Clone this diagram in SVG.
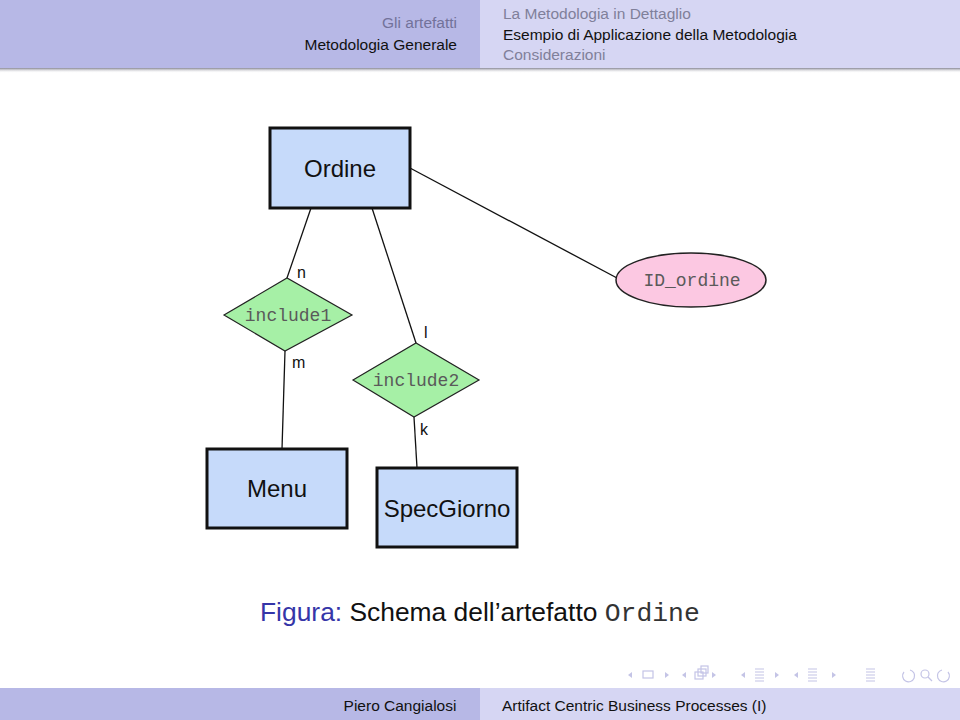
<svg xmlns="http://www.w3.org/2000/svg" width="960" height="720" viewBox="0 0 960 720">
<defs>
<linearGradient id="shadow" x1="0" y1="0" x2="0" y2="1">
<stop offset="0" stop-color="#6a6a7a" stop-opacity="0.8"/>
<stop offset="1" stop-color="#ffffff" stop-opacity="0"/>
</linearGradient>
<style>
.ent{fill:#c6dafa;stroke:#111;stroke-width:3}
.rel{fill:#a6f0a6;stroke:#222;stroke-width:1.2}
.att{fill:#fcc8e2;stroke:#222;stroke-width:1.5}
.ln{stroke:#111;stroke-width:1.3;fill:none}
.et{font-family:"Liberation Sans",Arial,sans-serif;font-size:24px;fill:#111;text-anchor:middle}
.mt{font-family:"Liberation Mono","Courier New",monospace;font-size:18px;fill:#5a5a5a;text-anchor:middle}
.card{font-family:"Liberation Sans",Arial,sans-serif;font-size:16px;fill:#111}
.hd{font-family:"Liberation Sans",Arial,sans-serif;font-size:15.5px}
.nav{fill:none;stroke:#c4c4e6;stroke-width:1.2}
.navf{fill:#c4c4e6}
</style>
</defs>
<rect width="960" height="720" fill="#ffffff"/>
<g id="header">
<rect x="0" y="0" width="480" height="68" fill="#b7b8e6"/>
<rect x="480" y="0" width="480" height="68" fill="#d6d6f3"/>
<rect x="0" y="68" width="960" height="5" fill="url(#shadow)"/>
<text class="hd" x="457" y="28" text-anchor="end" fill="#72729a">Gli artefatti</text>
<text class="hd" x="457" y="50" text-anchor="end" fill="#111">Metodologia Generale</text>
<text class="hd" x="503" y="19" fill="#80809a">La Metodologia in Dettaglio</text>
<text class="hd" x="503" y="40" fill="#111">Esempio di Applicazione della Metodologia</text>
<text class="hd" x="503" y="60" fill="#80809a">Considerazioni</text>
</g>
<g id="connectors">
<line class="ln" x1="311" y1="208" x2="287" y2="278"/>
<line class="ln" x1="372" y1="208" x2="416" y2="343"/>
<line class="ln" x1="410" y1="168" x2="617" y2="278"/>
<line class="ln" x1="285" y1="351" x2="282" y2="449"/>
<line class="ln" x1="414" y1="417" x2="417" y2="468"/>
</g>
<g id="Ordine">
<rect class="ent" x="270" y="128" width="140" height="80"/>
<text class="et" x="340" y="177">Ordine</text>
</g>
<g id="include1">
<polygon class="rel" points="224,315 287,278 352,315 285,351"/>
<text class="mt" x="288" y="321">include1</text>
</g>
<g id="include2">
<polygon class="rel" points="353,380 416,343 479,380 414,417"/>
<text class="mt" x="416" y="386">include2</text>
</g>
<g id="ID_ordine">
<ellipse class="att" cx="691" cy="280" rx="75" ry="27"/>
<text class="mt" x="692" y="286">ID_ordine</text>
</g>
<g id="Menu">
<rect class="ent" x="207" y="449" width="140" height="79"/>
<text class="et" x="277" y="497">Menu</text>
</g>
<g id="SpecGiorno">
<rect class="ent" x="377" y="468" width="140" height="79"/>
<text class="et" x="447" y="517">SpecGiorno</text>
</g>
<g id="labels">
<text class="card" x="297" y="278">n</text>
<text class="card" x="292" y="368">m</text>
<text class="card" x="424" y="338">l</text>
<text class="card" x="420" y="435">k</text>
</g>
<g id="caption" font-size="26.4">
<text x="260" y="621" font-family="Liberation Sans,Arial,sans-serif"><tspan fill="#3535a8">Figura:</tspan><tspan fill="#111"> Schema dell’artefatto </tspan><tspan font-family="Liberation Mono,Courier New,monospace" fill="#333">Ordine</tspan></text>
</g>
<g id="navigation">
<polygon class="navf" points="632,672 628,675 632,678"/>
<rect class="nav" x="643" y="671" width="10" height="7"/>
<polygon class="navf" points="665,672 669,675 665,678"/>
<polygon class="navf" points="686,672 682,675 686,678"/>
<rect class="nav" x="695" y="672" width="8" height="7"/>
<rect class="nav" x="698" y="669" width="8" height="7"/>
<rect class="nav" x="701" y="666" width="7" height="7"/>
<polygon class="navf" points="712,672 716,675 712,678"/>
<polygon class="navf" points="745,672 741,675 745,678"/>
<path class="nav" d="M755,669h9M755,672h9M755,675h9M755,678h9M755,681h9"/>
<polygon class="navf" points="775,672 779,675 775,678"/>
<polygon class="navf" points="798,672 794,675 798,678"/>
<path class="nav" d="M808,669h9M808,672h9M808,675h9M808,678h9M808,681h9"/>
<polygon class="navf" points="832,672 836,675 832,678"/>
<path class="nav" d="M866,669h9M866,672h9M866,675h9M866,678h9M866,681h9"/>
<path class="nav" d="M904,672 a6,6 0 1 0 6,-2"/>
<circle class="nav" cx="925" cy="674" r="4"/>
<line class="nav" x1="928" y1="677" x2="932" y2="681"/>
<path class="nav" d="M948,672 a6,6 0 1 1 -6,-2"/>
</g>
<g id="footer">
<rect x="0" y="688" width="480" height="32" fill="#b7b8e6"/>
<rect x="480" y="688" width="480" height="32" fill="#d6d6f3"/>
<text class="hd" x="400" y="711" text-anchor="middle" fill="#111">Piero Cangialosi</text>
<text class="hd" x="502" y="711" fill="#111">Artifact Centric Business Processes (I)</text>
</g>
</svg>
